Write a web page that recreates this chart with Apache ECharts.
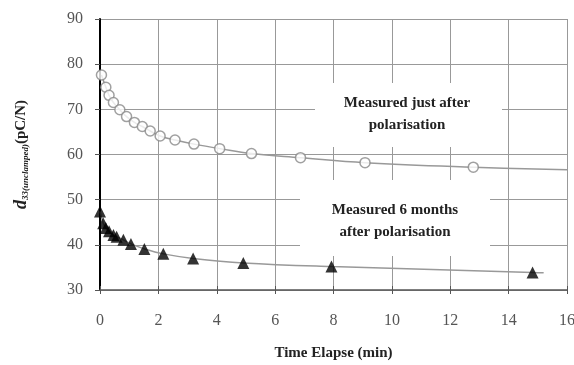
<!DOCTYPE html>
<html>
<head>
<meta charset="utf-8">
<script src="https://cdn.jsdelivr.net/npm/echarts@6/dist/echarts.min.js"></script>
<style>html,body{margin:0;padding:0;background:#fff;}#c{width:574px;height:365px;}</style>
</head>
<body>
<div id="c"></div>
<script>
// Measured just after polarisation
var justAfterX = [0.05, 0.2, 0.31, 0.46, 0.68, 0.91, 1.18, 1.45, 1.72, 2.06, 2.57, 3.22, 4.1, 5.19, 6.87, 9.08, 12.79];
var justAfterY = [77.6, 74.9, 73.1, 71.5, 69.9, 68.4, 67.1, 66.2, 65.2, 64.1, 63.2, 62.3, 61.3, 60.2, 59.3, 58.2, 57.2];
// Measured 6 months after polarisation
var sixMonthsX = [0.0, 0.11, 0.2, 0.31, 0.46, 0.57, 0.8, 1.06, 1.52, 2.17, 3.19, 4.91, 7.93, 14.82];
var sixMonthsY = [47.4, 44.8, 43.7, 43.0, 42.2, 41.8, 41.1, 40.2, 39.1, 38.0, 37.0, 36.0, 35.2, 33.9];
// trendline end points
var justAfterTrendEnd = [16, 56.6];
var sixMonthsTrendEnd = [15.2, 33.8];
var xTicks = [0, 2, 4, 6, 8, 10, 12, 14, 16];
var yTicks = [30, 40, 50, 60, 70, 80, 90];

function pairs(xs, ys) { return xs.map(function (x, i) { return [x, ys[i]]; }); }
var upper = pairs(justAfterX, justAfterY);
var lower = pairs(sixMonthsX, sixMonthsY);

var serif = '"Liberation Serif", "DejaVu Serif", serif';
var chart = echarts.init(document.getElementById('c'), null, {renderer: 'canvas'});
chart.setOption({
  animation: false,
  backgroundColor: '#fff',
  grid: {left: 100, right: 7, top: 19, bottom: 75, show: false, containLabel: false, outerBoundsMode: 'none'},
  xAxis: [{
    type: 'value', min: xTicks[0], max: xTicks[xTicks.length - 1], interval: 2,
    name: 'Time Elapse (min)', nameLocation: 'middle', nameGap: 56,
    nameTextStyle: {fontFamily: serif, fontSize: 15, fontWeight: 'bold', color: '#222'},
    axisLine: {show: true, onZero: false, lineStyle: {color: '#555', width: 1.5}},
    axisTick: {show: true, inside: false, length: 4, lineStyle: {color: '#555'}},
    axisLabel: {margin: 23, fontFamily: serif, fontSize: 16, color: '#555'},
    splitLine: {show: true, lineStyle: {color: '#999', width: 1}}
  }, {
    type: 'value', position: 'bottom', min: xTicks[0], max: xTicks[xTicks.length - 1], interval: 2,
    axisLine: {show: false, onZero: false},
    axisTick: {show: true, inside: true, length: 4, lineStyle: {color: '#555'}},
    axisLabel: {show: false},
    splitLine: {show: false}
  }],
  yAxis: {
    type: 'value', min: yTicks[0], max: yTicks[yTicks.length - 1], interval: 10,
    name: '{d|d}{s|33(unclamped)}{u|(pC/N)}', nameLocation: 'middle', nameGap: 70, nameRotate: 90,
    nameTextStyle: {
      color: '#222',
      rich: {
        d: {fontFamily: serif, fontSize: 18, fontStyle: 'italic', fontWeight: 'bold', color: '#222'},
        s: {fontFamily: serif, fontSize: 9, fontStyle: 'italic', fontWeight: 'bold', color: '#222', verticalAlign: 'bottom', padding: [8, 0, 0, 0]},
        u: {fontFamily: serif, fontSize: 15, fontWeight: 'bold', color: '#222'}
      }
    },
    axisLine: {show: true, onZero: false, lineStyle: {color: '#000', width: 2}},
    axisTick: {show: true, inside: false, length: 5, lineStyle: {color: '#555'}},
    axisLabel: {margin: 17, fontFamily: serif, fontSize: 16, color: '#555'},
    splitLine: {show: true, lineStyle: {color: '#999', width: 1}}
  },
  graphic: [
    {type: 'rect', shape: {x: 315, y: 83, width: 187, height: 64}, style: {fill: '#fff'}, z: 1},
    {type: 'text', x: 407, y: 92, z: 2, style: {text: 'Measured just after\npolarisation', fontFamily: serif, fontSize: 15, fontWeight: 'bold', fill: '#222', align: 'center', lineHeight: 22}},
    {type: 'rect', shape: {x: 300, y: 180, width: 190, height: 76}, style: {fill: '#fff'}, z: 1},
    {type: 'text', x: 395, y: 199, z: 2, style: {text: 'Measured 6 months\nafter polarisation', fontFamily: serif, fontSize: 15, fontWeight: 'bold', fill: '#222', align: 'center', lineHeight: 22}}
  ],
  series: [
    {type: 'line', data: upper.concat([justAfterTrendEnd]), smooth: 0.4, showSymbol: false, symbol: 'none',
     lineStyle: {color: '#999', width: 1.5}, z: 3, silent: true},
    {type: 'line', data: lower.concat([sixMonthsTrendEnd]), smooth: 0.4, showSymbol: false, symbol: 'none',
     lineStyle: {color: '#999', width: 1.5}, z: 3, silent: true},
    {type: 'scatter', data: upper, symbol: 'circle', symbolSize: 10,
     itemStyle: {color: '#fff', borderColor: '#888', borderWidth: 1.5}, z: 4},
    {type: 'scatter', data: lower, symbol: 'triangle', symbolSize: 12,
     itemStyle: {color: '#000'}, z: 4}
  ]
});
</script>
</body>
</html>
